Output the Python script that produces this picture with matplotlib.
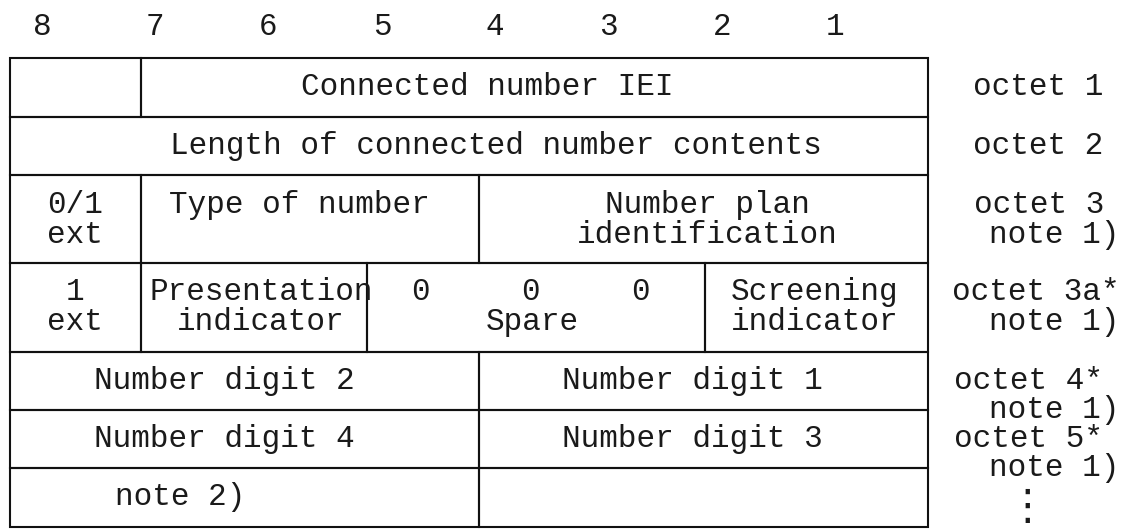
import matplotlib
matplotlib.use("Agg")
import matplotlib.pyplot as plt
from matplotlib.patches import Rectangle

# ---- data ----
bit_labels = ["8", "7", "6", "5", "4", "3", "2", "1"]
bit_label_x = [42, 155, 268, 382, 495, 608, 722, 835]
# column edges (pixels) for bits 8..1 and row edges (pixels)
col_edges = [10, 141, 254, 367, 479, 592, 705, 817, 928]
row_edges = [58, 117, 175, 263, 352, 410, 468, 527]

# cells: (row, first column index, last column index exclusive)
cells = [
    (0, 0, 1), (0, 1, 8),
    (1, 0, 8),
    (2, 0, 1), (2, 1, 4), (2, 4, 8),
    (3, 0, 1), (3, 1, 3), (3, 3, 6), (3, 6, 8),
    (4, 0, 4), (4, 4, 8),
    (5, 0, 4), (5, 4, 8),
    (6, 0, 4), (6, 4, 8),
]

# field texts: (text, x, y)
field_texts = [
    ("Connected number IEI", 487, 87),
    ("Length of connected number contents", 496, 146),
    ("0/1\next", 75, 220),
    ("Type of number", 299, 205),
    ("Number plan\nidentification", 707, 220),
    ("1\next", 75, 307),
    ("Presentation\nindicator", 261, 307),
    ("0", 420, 292), ("0", 530, 292), ("0", 640, 292),
    ("Spare", 532, 322),
    ("Screening\nindicator", 815, 307),
    ("Number digit 2", 224, 381),
    ("Number digit 1", 692, 381),
    ("Number digit 4", 224, 439),
    ("Number digit 3", 692, 439),
    ("note 2)", 180, 497),
]

octet_labels = [
    ("octet 1", 1038, 87),
    ("octet 2", 1038, 146),
    ("octet 3", 1039, 205),
    ("note 1)", 1054, 235),
    ("octet 3a*", 1036, 292),
    ("note 1)", 1054, 322),
    ("octet 4*", 1028, 381),
    ("note 1)", 1054, 410),
    ("octet 5*", 1028, 439),
    ("note 1)", 1054, 468),
]

W, H = 1121, 530
fig = plt.figure(figsize=(W / 100, H / 100), dpi=100)
ax = fig.add_axes([0, 0, 1, 1])
ax.set_xlim(0, W)
ax.set_ylim(H, 0)
ax.axis("off")

font = dict(family="Liberation Mono", fontsize=22.3, color="#1a1a1a")

# bit numbers
for lab, x in zip(bit_labels, bit_label_x):
    ax.text(x, 27, lab, ha="center", va="center", **font)

# cells
for r, c0, c1 in cells:
    x0, x1 = col_edges[c0], col_edges[c1]
    y0, y1 = row_edges[r], row_edges[r + 1]
    ax.add_patch(Rectangle((x0, y0), x1 - x0, y1 - y0, fill=False,
                           edgecolor="#111111", linewidth=1.5))

for txt, x, y in field_texts:
    ax.text(x, y, txt, ha="center", va="center", multialignment="center",
            linespacing=1.0, **font)

for txt, x, y in octet_labels:
    ax.text(x, y, txt, ha="center", va="center", **font)

# continuation dots
ax.text(1027, 507, "\u22ee", ha="center", va="center",
        family=["DejaVu Sans"], fontsize=30, color="#1a1a1a")

fig.savefig("out.png", dpi=100, facecolor="white")
